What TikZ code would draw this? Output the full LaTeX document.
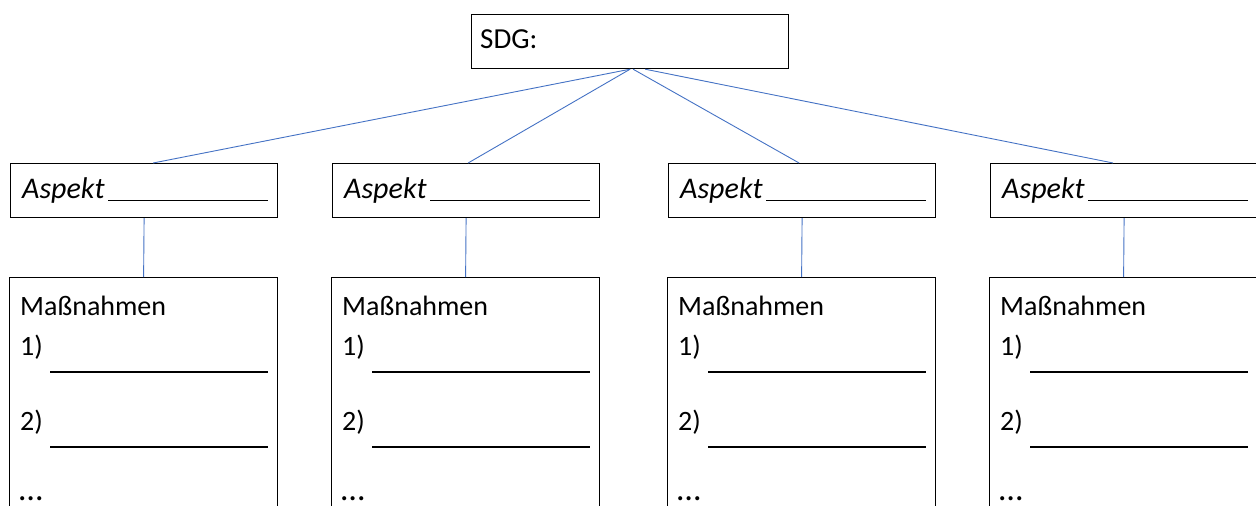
\documentclass[tikz,border=0pt]{standalone}
\usepackage{fontspec}
\setmainfont{Carlito}
\usetikzlibrary{calc}
\definecolor{linkblue}{HTML}{4472C4}
\tikzset{
  box/.style={draw=black, line width=1.2pt, rectangle, inner sep=0pt, anchor=north west},
  link/.style={draw=linkblue, line width=0.9pt},
  blank/.style={draw=black, line width=1.1pt},
  txt/.style={anchor=base west, inner sep=0pt, font=\fontsize{28}{30}\selectfont},
}
\begin{document}
\begin{tikzpicture}[x=1pt,y=-1pt]
\useasboundingbox (0,0) rectangle (1256,506);
\clip (0,0) rectangle (1256,506);
\node[box, minimum width=317pt, minimum height=54pt] (sdg) at (471,14) {};
\node[txt, font=\fontsize{29}{31}\selectfont] (sdgt) at (480,48) {SDG:};
\foreach \i/\x in {1/10,2/332,3/668,4/990}{
  \node[box, minimum width=267pt, minimum height=54pt] (a\i) at (\x,163) {};
  \node[txt, font=\fontsize{30}{32}\selectfont\itshape] (at\i) at (\x+12,198) {Aspekt};
  \draw[blank] (\x+98,200.5) -- (\x+258,200.5);
  \node[box, minimum width=268pt, minimum height=260pt] (m\i) at (\x-1,277) {};
  \node[txt] (mt\i) at (\x+10,315) {Maßnahmen};
  \node[txt] (n1\i) at (\x+10,355) {1)};
  \draw[blank] (\x+40,372) -- (\x+258,372);
  \node[txt] (n2\i) at (\x+10,430) {2)};
  \draw[blank] (\x+40,447) -- (\x+258,447);
  \node[txt, font=\fontsize{34}{36}\selectfont] (d\i) at (\x+9,500) {…};
  \draw[link] (a\i.south) -- (m\i.north);
}
\draw[link] (sdg.south) -- ($(a1.north)+(9,0)$);
\draw[link] (sdg.south) -- ($(a2.north)+(2,0)$);
\draw[link] ($(sdg.south)+(3,0)$) -- ($(a3.north)+(-3,0)$);
\draw[link] ($(sdg.south)+(15,0)$) -- ($(a4.north)+(-11,0)$);
\end{tikzpicture}
\end{document}
